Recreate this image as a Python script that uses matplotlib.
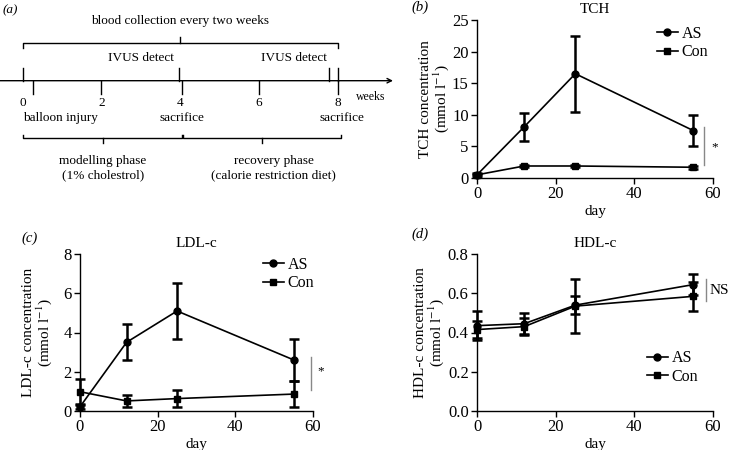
import matplotlib
matplotlib.use("Agg")
import matplotlib.pyplot as plt
from matplotlib.lines import Line2D

plt.rcParams['font.family'] = ['Liberation Serif', 'DejaVu Serif']
plt.rcParams['mathtext.fontset'] = 'stix'

# ---------------- data ----------------
days = [0, 12, 25, 55]

tch_as = [0.5, 8.1, 16.5, 7.5]
tch_as_err = [0.3, 2.2, 6.0, 2.5]
tch_con = [0.5, 1.9, 1.9, 1.7]
tch_con_err = [0.1, 0.2, 0.2, 0.2]

ldl_as = [0.2, 3.5, 5.1, 2.6]
ldl_as_err = [0.1, 0.93, 1.42, 1.06]
ldl_con = [0.97, 0.5, 0.62, 0.85]
ldl_con_err = [0.64, 0.3, 0.43, 0.68]

hdl_as = [0.435, 0.445, 0.54, 0.645]
hdl_as_err = [0.075, 0.055, 0.045, 0.055]
hdl_con = [0.415, 0.43, 0.535, 0.585]
hdl_con_err = [0.045, 0.045, 0.14, 0.075]

week_ticks = [0, 2, 4, 6, 8]
series_labels = ['AS', 'Con']

# ---------------- figure ----------------
W, H = 732, 450
fig = plt.figure(figsize=(W / 100, H / 100), dpi=100)

def px_axes(l, t, r, b):
    return fig.add_axes([l / W, 1 - b / H, (r - l) / W, (b - t) / H])

# ---------- panel (a): timeline ----------
axA = fig.add_axes([0, 0.5, 0.5, 0.5])
pxw = (337.7 - 22.7) / 8.0
axA.set_xlim(-22.7 / pxw, (366 - 22.7) / pxw)
axA.set_ylim(225, 0)
axA.axis('off')

def wk(px):
    return (px - 22.7) / pxw

fsA = 9.5
lw = 1.0
ly = 80.7
axA.annotate('', xy=(wk(393), ly), xytext=(wk(0), ly),
             arrowprops=dict(arrowstyle='->', lw=lw, color='black',
                             shrinkA=0, shrinkB=0, mutation_scale=8),
             annotation_clip=False)
axA.text(wk(356), 97, 'weeks', fontsize=8.5, ha='left', va='center',
         clip_on=False)
for w in week_ticks:
    axA.text(w, 103, str(w), fontsize=fsA, ha='center', va='center')
for w in [0.25, 2, 4.05, 6, 8]:
    axA.plot([w, w], [ly, 94], color='black', lw=lw)
for w in [0, 3.98, 7.78, 8]:
    axA.plot([w, w], [68, ly], color='black', lw=lw)

axA.text(0, 118, 'balloon injury', fontsize=fsA, ha='left', va='center')
axA.text(4.05, 118, 'sacrifice', fontsize=fsA, ha='center', va='center')
axA.text(wk(320), 118, 'sacrifice', fontsize=fsA, ha='left', va='center',
         clip_on=False)
axA.text(3.0, 58, 'IVUS detect', fontsize=fsA, ha='center', va='center')
axA.text(6.9, 58, 'IVUS detect', fontsize=fsA, ha='center', va='center')

axA.plot([0, 0, 8, 8], [48, 42.7, 42.7, 48], color='black', lw=lw)
axA.plot([4.0, 4.0], [42.7, 37], color='black', lw=lw)
axA.text(4.0, 21, 'blood collection every two weeks', fontsize=fsA,
         ha='center', va='center')

axA.plot([0.02, 0.02, 4.04, 4.04], [134.5, 138, 138, 134.5], color='black', lw=lw)
axA.plot([2.03, 2.03], [138, 143], color='black', lw=lw)
axA.plot([4.08, 4.08, 8.08, 8.08], [134.5, 138, 138, 134.5], color='black', lw=lw)
axA.plot([6.08, 6.08], [138, 143], color='black', lw=lw)
axA.text(2.03, 161, 'modelling phase', fontsize=fsA, ha='center', va='center')
axA.text(2.03, 175, '(1% cholestrol)', fontsize=fsA, ha='center', va='center')
axA.text(6.37, 161, 'recovery phase', fontsize=fsA, ha='center', va='center')
axA.text(6.37, 175, '(calorie restriction diet)', fontsize=fsA,
         ha='center', va='center')
axA.text(wk(3), 10, '(a)', fontsize=fsA, ha='left', va='center',
         style='italic')

# ---------- panels (b)-(d) ----------
tick_fs = 12
lab_fs = 11

def style_axes(ax, ylim, yticks, title, letter, ylabel, letter_px, ylab_x):
    ax.set_xlim(0, 60)
    ax.set_ylim(*ylim)
    ax.set_xticks([0, 20, 40, 60])
    ax.set_yticks(yticks)
    for s in ['top', 'right']:
        ax.spines[s].set_visible(False)
    for s in ['left', 'bottom']:
        ax.spines[s].set_linewidth(1.0)
    ax.tick_params(direction='out', length=4, width=1.0, labelsize=tick_fs,
                   pad=2)
    ax.set_xlabel('day', fontsize=lab_fs, labelpad=2)
    ax.set_ylabel(ylabel, fontsize=lab_fs, linespacing=0.95)
    ax.yaxis.set_label_coords(ylab_x, 0.5)
    ax.set_title(title, fontsize=lab_fs, pad=5)
    fig.text(letter_px[0] / W, 1 - letter_px[1] / H, letter, fontsize=10.5,
             style='italic', ha='left', va='center')

def draw_series(ax, as_v, as_e, con_v, con_e):
    ax.errorbar(days, as_v, yerr=as_e, color='black', marker='o', ms=5,
                lw=1.2, elinewidth=1.8, capsize=3.5, capthick=1.8,
                clip_on=False, zorder=3)
    ax.errorbar(days, con_v, yerr=con_e, color='black', marker='s', ms=5,
                lw=1.2, elinewidth=1.8, capsize=3.5, capthick=1.8,
                clip_on=False, zorder=3)

def legend(ax, x_px, y_px):
    handles = [Line2D([], [], color='black', marker='o', ms=5, lw=1.2),
               Line2D([], [], color='black', marker='s', ms=5, lw=1.2)]
    ax.legend(handles, series_labels, loc='center left',
              bbox_to_anchor=(x_px / W, 1 - y_px / H),
              bbox_transform=fig.transFigure, frameon=False,
              fontsize=11.5, handlelength=1.3, handletextpad=0.25,
              labelspacing=0.15, borderaxespad=0, borderpad=0)

# (b) TCH
axB = px_axes(477, 20, 713, 178)
draw_series(axB, tch_as, tch_as_err, tch_con, tch_con_err)
style_axes(axB, (0, 25), [0, 5, 10, 15, 20, 25], 'TCH', '(b)',
           'TCH concentration\n(mmol l$^{-1}$)', (411, 7), -0.11)
axB.plot([57.7, 57.7], [2.1, 8.1], color='#888888', lw=1, clip_on=False)
axB.text(59.6, 4.9, '*', fontsize=9.5, ha='left', va='center')
legend(axB, 657, 43)

# (c) LDL-c
axC = px_axes(80, 254.3, 313, 410.7)
draw_series(axC, ldl_as, ldl_as_err, ldl_con, ldl_con_err)
style_axes(axC, (0, 8), [0, 2, 4, 6, 8], 'LDL-c', '(c)',
           'LDL-c concentration\n(mmol l$^{-1}$)', (21, 238), -0.112)
axC.plot([59.6, 59.6], [1.06, 2.76], color='#888888', lw=1, clip_on=False)
axC.text(61.2, 2.0, '*', fontsize=9.5, ha='left', va='center')
legend(axC, 263, 274)

# (d) HDL-c
axD = px_axes(477, 254.3, 713, 410.7)
draw_series(axD, hdl_as, hdl_as_err, hdl_con, hdl_con_err)
style_axes(axD, (0, 0.8), [0, 0.2, 0.4, 0.6, 0.8], 'HDL-c', '(d)',
           'HDL-c concentration\n(mmol l$^{-1}$)', (411, 234), -0.133)
axD.plot([58.1, 58.1], [0.563, 0.674], color='#888888', lw=1, clip_on=False)
axD.text(59.0, 0.615, 'NS', fontsize=lab_fs, ha='left', va='center',
         clip_on=False)
legend(axD, 647, 367.5)

fig.savefig('out.png', dpi=100)
